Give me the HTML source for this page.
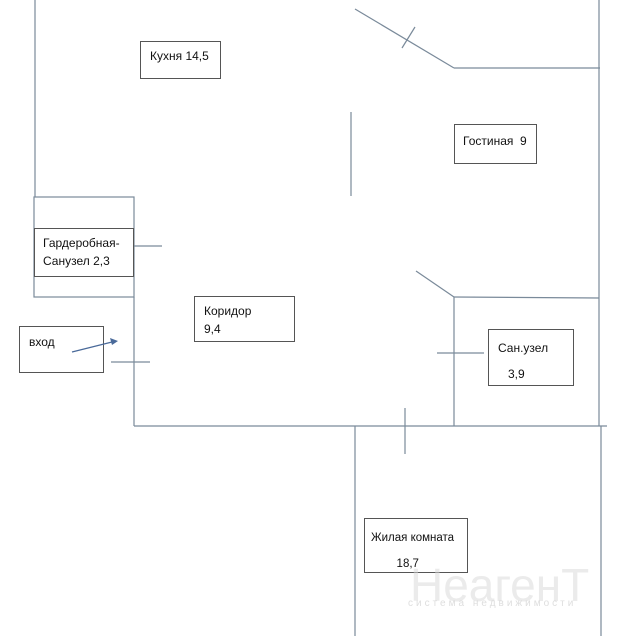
<!DOCTYPE html>
<html><head><meta charset="utf-8"><style>
body{margin:0;background:#fff}
.b{position:absolute;border:1px solid #555;background:#fff;font-family:"Liberation Sans","DejaVu Sans",sans-serif;font-size:12px;color:#111;box-sizing:border-box;white-space:nowrap}
</style></head><body>
<div style="position:relative;width:636px;height:636px;overflow:hidden">
<svg width="636" height="636" style="position:absolute;left:0;top:0" stroke="#7a8a9a" stroke-width="1.2" fill="none">
<line x1="35" y1="0" x2="35" y2="197"/>
<rect x="34" y="197" width="100" height="100"/>
<line x1="134" y1="297" x2="134" y2="426"/>
<line x1="134" y1="426" x2="607" y2="426"/>
<line x1="599" y1="0" x2="599" y2="426"/>
<line x1="601" y1="426" x2="601" y2="636"/>
<line x1="355" y1="426" x2="355" y2="636"/>
<line x1="454" y1="297" x2="454" y2="426"/>
<line x1="454" y1="297" x2="599" y2="298"/>
<line x1="416" y1="271" x2="454" y2="297"/>
<line x1="355" y1="9" x2="454" y2="68"/>
<line x1="454" y1="68" x2="600" y2="68"/>
<line x1="402" y1="48" x2="415" y2="27"/>
<line x1="351" y1="112" x2="351" y2="196"/>
<line x1="134" y1="246" x2="162" y2="246"/>
<line x1="111" y1="362" x2="150" y2="362"/>
<line x1="437" y1="353" x2="484" y2="353"/>
<line x1="405" y1="408" x2="405" y2="454"/>
</svg>
<div class="b" style="left:140px;top:41px;width:81px;height:38px;padding:7px 9px">Кухня 14,5</div>
<div class="b" style="left:454px;top:124px;width:83px;height:40px;padding:9px 8px">Гостиная&nbsp; 9</div>
<div class="b" style="left:34px;top:228px;width:100px;height:49px;padding:5px 8px;line-height:18px">Гардеробная-<br>Санузел 2,3</div>
<div class="b" style="left:194px;top:296px;width:101px;height:46px;padding:5px 9px;line-height:18px">Коридор<br>9,4</div>
<div class="b" style="left:19px;top:326px;width:85px;height:47px;padding:8px 9px">вход</div>
<div class="b" style="left:488px;top:329px;width:86px;height:57px;padding:5px 9px;line-height:26px">Сан.узел<br>&nbsp;&nbsp;&nbsp;3,9</div>
<div class="b" style="left:364px;top:518px;width:104px;height:55px;padding:6px 6px;line-height:26px;font-size:11.5px">Жилая комната<br>&nbsp;&nbsp;&nbsp;&nbsp;&nbsp;&nbsp;&nbsp;&nbsp;18,7</div>
<svg width="636" height="636" style="position:absolute;left:0;top:0">
<line x1="72" y1="352" x2="112" y2="342" stroke="#4a6a9a" stroke-width="1.2"/>
<polygon points="118,341 110,338 112,345" fill="#4a6a9a"/>
</svg>
<div style="position:absolute;left:410px;top:558px;font:46px 'Liberation Sans',sans-serif;color:rgba(215,215,215,0.5)">НеагенТ</div>
<div style="position:absolute;left:408px;top:598px;font:10px 'Liberation Sans',sans-serif;color:rgba(200,200,200,0.6);letter-spacing:3px">система недвижимости</div>
</div>
</body></html>
